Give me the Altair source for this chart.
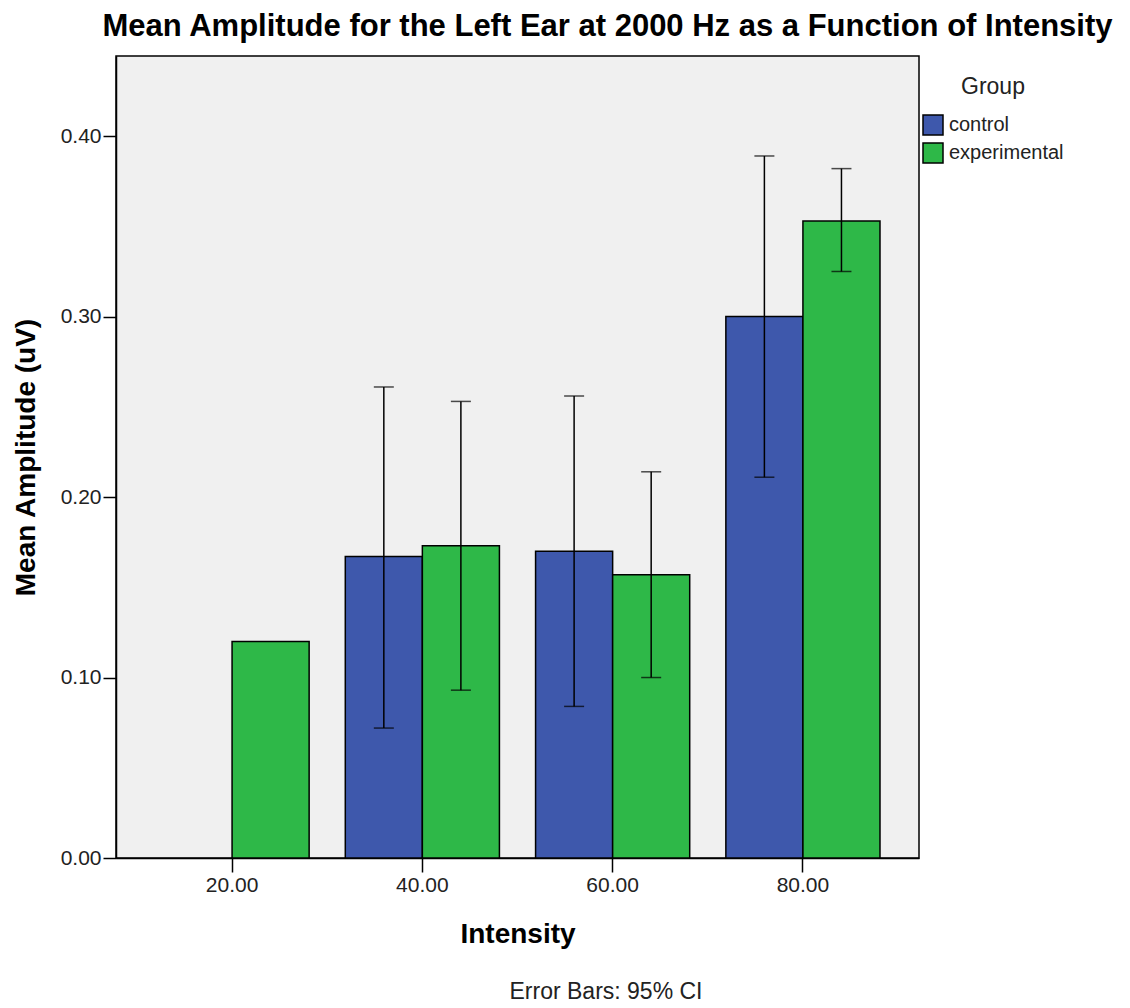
import altair as alt
import pandas as pd

intensity = ["20.00", "40.00", "40.00", "60.00", "60.00", "80.00", "80.00"]
group = ["experimental", "control", "experimental", "control", "experimental", "control", "experimental"]
mean_amp = [0.120, 0.167, 0.173, 0.170, 0.157, 0.300, 0.353]
ci_low = [None, 0.072, 0.093, 0.084, 0.100, 0.211, 0.325]
ci_high = [None, 0.261, 0.253, 0.256, 0.214, 0.389, 0.382]

categories = ["20.00", "40.00", "60.00", "80.00"]
groups = ["control", "experimental"]
colors = ["#3E58AC", "#2EB848"]
y_ticks = [0, 0.1, 0.2, 0.3, 0.4]

df = pd.DataFrame({"Intensity": intensity, "Group": group, "Mean": mean_amp,
                   "Low": ci_low, "High": ci_high})

FONT = "Liberation Sans"

x_enc = alt.X("Intensity:N", sort=categories,
              scale=alt.Scale(domain=categories, paddingInner=0.19, paddingOuter=0.205),
              axis=alt.Axis(title="Intensity", labelAngle=0, labelFontSize=21, labelFont=FONT,
                            labelColor="#222222", tickSize=14, tickColor="black", domainColor="black",
                            tickWidth=1.5, domainWidth=1.5, labelPadding=2,
                            titleFont=FONT, titleFontSize=28, titleFontWeight="bold",
                            titlePadding=25, titleColor="black"))
xoff = alt.XOffset("Group:N", scale=alt.Scale(domain=groups, paddingInner=0, paddingOuter=0))

bars = alt.Chart(df).mark_bar(stroke="black", strokeWidth=1.5).encode(
    x=x_enc,
    xOffset=xoff,
    y=alt.Y("Mean:Q", scale=alt.Scale(domain=[0, 0.4444], nice=False, zero=True),
            axis=alt.Axis(title="Mean Amplitude (uV)", values=y_ticks, format=".2f",
                          grid=False, labelFontSize=21, labelFont=FONT, labelColor="#222222",
                          tickSize=13, tickColor="black", domainColor="black", tickWidth=1.5,
                          domainWidth=1.5, labelPadding=2,
                          titleFont=FONT, titleFontSize=28, titleFontWeight="bold",
                          titlePadding=20, titleColor="black")),
    color=alt.Color("Group:N", scale=alt.Scale(domain=groups, range=colors),
                    legend=alt.Legend(title="Group", titleFont=FONT, titleFontSize=23,
                                      titleFontWeight="normal", titleColor="#222222",
                                      titleAnchor="middle", titlePadding=15,
                                      labelFont=FONT, labelFontSize=20, labelColor="#222222",
                                      symbolType="square", symbolSize=400, symbolStrokeColor="black",
                                      symbolStrokeWidth=1.5, symbolOpacity=1,
                                      orient="none", legendX=806, legendY=20,
                                      rowPadding=2, labelOffset=5, padding=0)),
)

err_df = df.dropna()

rules = alt.Chart(err_df).mark_rule(color="black", strokeWidth=1.5).encode(
    x=alt.X("Intensity:N", sort=categories),
    xOffset=xoff,
    y="Low:Q",
    y2="High:Q",
)
caps_low = alt.Chart(err_df).mark_tick(color="black", thickness=1.5, size=20, orient="horizontal").encode(
    x=alt.X("Intensity:N", sort=categories),
    xOffset=xoff,
    y="Low:Q",
)
caps_high = alt.Chart(err_df).mark_tick(color="black", thickness=1.5, size=20, orient="horizontal").encode(
    x=alt.X("Intensity:N", sort=categories),
    xOffset=xoff,
    y="High:Q",
)

note = alt.Chart(pd.DataFrame({"t": ["Error Bars: 95% CI"]})).mark_text(
    font=FONT, fontSize=23, color="#222222", align="center", baseline="middle"
).encode(text="t:N", x=alt.value(490), y=alt.value(936))

chart = alt.layer(bars, rules, caps_low, caps_high, note).properties(
    width=803, height=802,
    background="white",
    title=alt.TitleParams("Mean Amplitude for the Left Ear at 2000 Hz as a Function of Intensity",
                          font=FONT, fontSize=31, fontWeight="bold", color="black",
                          anchor="middle", dx=90, offset=13),
    autosize=alt.AutoSizeParams(type="none"),
    padding={"left": 108, "top": 48, "right": 200, "bottom": 150},
).configure_view(
    fill="#F0F0F0", stroke="black", strokeWidth=1.5
)

chart.save("out.html", embed_options={"renderer": "svg", "actions": False})
